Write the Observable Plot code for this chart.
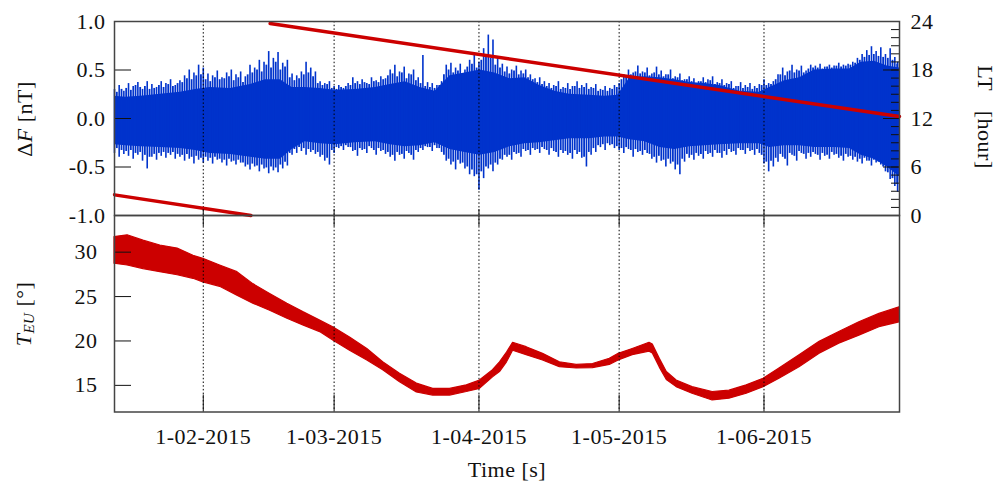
<!DOCTYPE html>
<html><head><meta charset="utf-8">
<script src="https://cdn.jsdelivr.net/npm/d3@7"></script>
<script src="https://cdn.jsdelivr.net/npm/@observablehq/plot@0.6"></script>
<style>
body{margin:0;background:#fff;}
#wrap{position:relative;width:1003px;height:482px;font-family:"Liberation Serif","Times New Roman",serif;color:#111;letter-spacing:0.5px;}
#wrap svg{position:absolute;left:0;}
.lab{position:absolute;font-size:22px;line-height:1;white-space:nowrap;transform:translate(-50%,-50%) rotate(-90deg);}
.lab sub{font-size:15px;vertical-align:-0.25em;}
</style></head><body><div id="wrap">
<div class="lab" style="left:25px;top:119px">Δ<i>F</i> [nT]</div>
<div class="lab" style="left:25px;top:314px"><i>T</i><sub><i>EU</i></sub> [°]</div>
<div class="lab" style="left:985px;top:117px;transform:translate(-50%,-50%) rotate(90deg);word-spacing:14px">LT [hour]</div>
</div>
<script>
// ---- data ----
const monthTicks = ["2015-02-01","2015-03-01","2015-04-01","2015-05-01","2015-06-01"];
const dfTicks = [-1, -0.5, 0, 0.5, 1];
const ltTicks = [0, 6, 12, 18, 24];
const ltMinorTicks = [0,1,2,3,4,5,6,7,8,9,10,11,12,13,14,15,16,17,18,19,20,21,22,23,24];
const tTicks = [15, 20, 25, 30];

// days since 2015-01-01 (UTC)
const coreDay = [12,14.4,17.6,21.8,26.1,29.3,32.5,36.8,41.1,44.3,47.5,50.0,52.8,56.0,59.2,63.5,67.8,71.0,74.2,77.4,80.6,83.8,87.0,90.2,93.4,96.6,99.8,103.0,106.2,109.4,113.7,116.9,119.7,122.3,125.5,128.7,131.9,135.1,138.3,141.5,145.8,150.0,152.2,155.4,158.6,161.8,166.1,169.3,171.8,174.6,177.4,180];
const coreTop = [0.23,0.22,0.23,0.25,0.27,0.30,0.32,0.31,0.35,0.40,0.40,0.32,0.32,0.31,0.29,0.30,0.32,0.35,0.38,0.32,0.28,0.44,0.47,0.50,0.47,0.41,0.42,0.34,0.28,0.25,0.24,0.23,0.24,0.42,0.43,0.42,0.40,0.37,0.36,0.34,0.28,0.27,0.32,0.39,0.42,0.50,0.51,0.51,0.58,0.59,0.54,0.52];
const coreBot = [-0.27,-0.28,-0.29,-0.30,-0.31,-0.33,-0.36,-0.37,-0.40,-0.42,-0.42,-0.32,-0.24,-0.26,-0.27,-0.25,-0.24,-0.27,-0.29,-0.28,-0.25,-0.32,-0.35,-0.38,-0.35,-0.29,-0.26,-0.25,-0.23,-0.21,-0.21,-0.19,-0.19,-0.22,-0.24,-0.30,-0.32,-0.29,-0.28,-0.27,-0.26,-0.26,-0.30,-0.28,-0.28,-0.30,-0.30,-0.31,-0.38,-0.42,-0.50,-0.60];

// tallest excursions, read about once a day
const spikeDay = [12,13,14,15,16,17,18,19,20,21,22,23,24,25,26,27,28,29,30,31,32,33,34,35,36,37,38,39,40,41,42,43,44,45,46,47,48,49,50,51,52,53,54,55,56,57,58,59,60,61,62,63,64,65,66,67,68,69,70,71,72,73,74,75,76,77,78,79,80,81,82,83,84,85,86,87,88,89,90,91,92,93,94,95,96,97,98,99,100,101,102,103,104,105,106,107,108,109,110,111,112,113,114,115,116,117,118,119,120,121,122,123,124,125,126,127,128,129,130,131,132,133,134,135,136,137,138,139,140,141,142,143,144,145,146,147,148,149,150,151,152,153,154,155,156,157,158,159,160,161,162,163,164,165,166,167,168,169,170,171,172,173,174,175,176,177,178,179,179.6];
const spikeTop = [
 0.30,0.34,0.28,0.36,0.33,0.37,0.30,0.38,0.35,0.32,
 0.38,0.36,0.40,0.34,0.39,0.44,0.50,0.47,0.55,0.52,
 0.46,0.44,0.49,0.42,0.47,0.50,0.45,0.48,0.43,0.55,
 0.52,0.60,0.58,0.69,0.62,0.68,0.57,0.60,0.46,0.44,
 0.48,0.58,0.52,0.48,0.38,0.36,0.38,0.33,0.34,0.31,
 0.36,0.42,0.38,0.40,0.36,0.42,0.39,0.43,0.41,0.50,
 0.55,0.48,0.53,0.46,0.50,0.42,0.65,0.37,0.36,0.34,
 0.38,0.55,0.57,0.52,0.56,0.50,0.60,0.67,0.58,0.72,
 0.86,0.81,0.62,0.56,0.53,0.50,0.54,0.49,0.50,0.45,
 0.41,0.42,0.38,0.36,0.34,0.38,0.32,0.36,0.33,0.38,
 0.34,0.36,0.32,0.35,0.30,0.33,0.31,0.34,0.36,0.45,
 0.50,0.47,0.54,0.48,0.52,0.46,0.53,0.49,0.45,0.50,
 0.43,0.46,0.40,0.43,0.41,0.38,0.42,0.40,0.43,0.37,
 0.40,0.36,0.38,0.33,0.37,0.34,0.36,0.33,0.35,0.40,
 0.36,0.38,0.45,0.52,0.48,0.55,0.50,0.54,0.49,0.55,
 0.54,0.56,0.53,0.55,0.54,0.57,0.55,0.56,0.58,0.62,
 0.66,0.70,0.74,0.69,0.73,0.66,0.72,0.63,0.58];
const spikeBot = [
 -0.36,-0.40,-0.37,-0.39,-0.42,-0.38,-0.44,-0.52,-0.40,-0.43,
 -0.39,-0.41,-0.38,-0.42,-0.40,-0.44,-0.42,-0.47,-0.43,-0.46,
 -0.44,-0.47,-0.43,-0.46,-0.49,-0.45,-0.48,-0.46,-0.50,-0.53,
 -0.50,-0.55,-0.52,-0.57,-0.54,-0.56,-0.52,-0.49,-0.38,-0.36,
 -0.34,-0.38,-0.35,-0.37,-0.40,-0.44,-0.48,-0.36,-0.31,-0.33,
 -0.30,-0.34,-0.39,-0.33,-0.36,-0.31,-0.38,-0.34,-0.37,-0.40,
 -0.44,-0.38,-0.42,-0.36,-0.43,-0.35,-0.33,-0.30,-0.34,-0.31,
 -0.35,-0.44,-0.48,-0.53,-0.47,-0.52,-0.58,-0.60,-0.74,-0.62,
 -0.52,-0.55,-0.48,-0.43,-0.40,-0.43,-0.37,-0.40,-0.34,-0.38,
 -0.33,-0.36,-0.32,-0.38,-0.34,-0.40,-0.36,-0.38,-0.42,-0.37,
 -0.41,-0.50,-0.38,-0.35,-0.30,-0.33,-0.28,-0.31,-0.33,-0.36,
 -0.32,-0.40,-0.35,-0.38,-0.36,-0.42,-0.46,-0.44,-0.50,-0.47,
 -0.53,-0.58,-0.45,-0.41,-0.43,-0.39,-0.42,-0.37,-0.40,-0.36,
 -0.41,-0.38,-0.35,-0.38,-0.33,-0.37,-0.34,-0.38,-0.36,-0.47,
 -0.55,-0.50,-0.45,-0.40,-0.49,-0.38,-0.44,-0.36,-0.42,-0.40,
 -0.37,-0.43,-0.39,-0.42,-0.38,-0.41,-0.44,-0.40,-0.43,-0.45,
 -0.47,-0.44,-0.49,-0.46,-0.48,-0.55,-0.63,-0.70,-0.76];

// secondary excursions, between the daily ones
const spike2Day = [12.5,13.5,14.5,15.5,16.5,17.5,18.5,19.5,20.5,21.5,22.5,23.5,24.5,25.5,26.5,27.5,28.5,29.5,30.5,31.5,32.5,33.5,34.5,35.5,36.5,37.5,38.5,39.5,40.5,41.5,42.5,43.5,44.5,45.5,46.5,47.5,48.5,49.5,50.5,51.5,52.5,53.5,54.5,55.5,56.5,57.5,58.5,59.5,60.5,61.5,62.5,63.5,64.5,65.5,66.5,67.5,68.5,69.5,70.5,71.5,72.5,73.5,74.5,75.5,76.5,77.5,78.5,79.5,80.5,81.5,82.5,83.5,84.5,85.5,86.5,87.5,88.5,89.5,90.5,91.5,92.5,93.5,94.5,95.5,96.5,97.5,98.5,99.5,100.5,101.5,102.5,103.5,104.5,105.5,106.5,107.5,108.5,109.5,110.5,111.5,112.5,113.5,114.5,115.5,116.5,117.5,118.5,119.5,120.5,121.5,122.5,123.5,124.5,125.5,126.5,127.5,128.5,129.5,130.5,131.5,132.5,133.5,134.5,135.5,136.5,137.5,138.5,139.5,140.5,141.5,142.5,143.5,144.5,145.5,146.5,147.5,148.5,149.5,150.5,151.5,152.5,153.5,154.5,155.5,156.5,157.5,158.5,159.5,160.5,161.5,162.5,163.5,164.5,165.5,166.5,167.5,168.5,169.5,170.5,171.5,172.5,173.5,174.5,175.5,176.5,177.5,178.5,179.5];
const spike2Top = [
 0.27,0.30,0.31,0.29,0.34,0.32,0.33,0.30,0.31,0.34,
 0.32,0.35,0.33,0.36,0.37,0.41,0.40,0.44,0.45,0.40,
 0.38,0.42,0.40,0.41,0.43,0.39,0.42,0.37,0.45,0.47,
 0.50,0.48,0.55,0.52,0.58,0.50,0.53,0.42,0.39,0.41,
 0.45,0.47,0.43,0.36,0.34,0.35,0.31,0.30,0.32,0.33,
 0.34,0.36,0.35,0.37,0.35,0.38,0.37,0.40,0.44,0.46,
 0.43,0.47,0.41,0.45,0.39,0.36,0.33,0.32,0.31,0.34,
 0.45,0.50,0.47,0.49,0.46,0.53,0.56,0.52,0.60,0.65,
 0.62,0.55,0.52,0.48,0.46,0.49,0.45,0.46,0.42,0.40,
 0.37,0.35,0.33,0.31,0.33,0.30,0.31,0.30,0.33,0.31,
 0.32,0.30,0.31,0.28,0.29,0.28,0.30,0.32,0.40,0.44,
 0.45,0.48,0.46,0.47,0.44,0.47,0.45,0.43,0.45,0.41,
 0.42,0.39,0.40,0.38,0.36,0.38,0.37,0.39,0.35,0.36,
 0.34,0.35,0.31,0.33,0.31,0.32,0.30,0.31,0.34,0.34,
 0.35,0.40,0.45,0.44,0.49,0.47,0.49,0.47,0.51,0.52,
 0.52,0.51,0.53,0.52,0.54,0.53,0.54,0.55,0.57,0.60,
 0.63,0.65,0.66,0.64,0.63,0.62,0.60,0.56];
const spike2Bot = [
 -0.31,-0.33,-0.34,-0.33,-0.36,-0.35,-0.38,-0.40,-0.37,-0.36,
 -0.35,-0.36,-0.35,-0.37,-0.38,-0.37,-0.40,-0.39,-0.41,-0.40,
 -0.41,-0.40,-0.42,-0.43,-0.42,-0.44,-0.43,-0.46,-0.48,-0.47,
 -0.49,-0.48,-0.51,-0.50,-0.51,-0.48,-0.45,-0.36,-0.32,-0.30,
 -0.31,-0.32,-0.33,-0.35,-0.38,-0.41,-0.33,-0.30,-0.29,-0.28,
 -0.30,-0.33,-0.31,-0.32,-0.29,-0.33,-0.31,-0.33,-0.35,-0.38,
 -0.35,-0.37,-0.34,-0.38,-0.33,-0.31,-0.29,-0.30,-0.28,-0.31,
 -0.38,-0.42,-0.45,-0.43,-0.46,-0.50,-0.53,-0.58,-0.55,-0.50,
 -0.48,-0.46,-0.42,-0.38,-0.38,-0.35,-0.36,-0.32,-0.33,-0.31,
 -0.32,-0.30,-0.33,-0.31,-0.35,-0.33,-0.34,-0.36,-0.33,-0.35,
 -0.40,-0.35,-0.31,-0.28,-0.27,-0.26,-0.27,-0.29,-0.31,-0.30,
 -0.33,-0.32,-0.34,-0.33,-0.37,-0.40,-0.39,-0.43,-0.42,-0.45,
 -0.48,-0.42,-0.37,-0.38,-0.36,-0.37,-0.34,-0.36,-0.33,-0.36,
 -0.34,-0.32,-0.34,-0.31,-0.33,-0.31,-0.33,-0.32,-0.38,-0.45,
 -0.44,-0.41,-0.37,-0.42,-0.36,-0.39,-0.34,-0.37,-0.36,-0.35,
 -0.38,-0.36,-0.38,-0.35,-0.37,-0.39,-0.37,-0.39,-0.40,-0.42,
 -0.41,-0.44,-0.43,-0.45,-0.50,-0.56,-0.62,-0.68];

// local time (hour) of the track, two segments (wrap at 0/24 h)
const ltDay = [12, 41.2, 45.3, 180];
const ltHour = [2.56, 0, 23.75, 12.25];
const ltSeg = [1, 1, 2, 2];

// T_EU band (upper / lower envelope)
const tDay = [12.0,14.8,18.2,21.8,25.5,28.9,31.0,34.6,38.3,41.7,45.3,49.0,52.4,56.0,58.8,62.4,66.1,69.5,73.1,76.7,80.2,83.8,87.4,90.2,93.0,94.5,96.0,97.3,100.2,103.7,107.3,110.9,114.4,118.0,119.9,122.9,126.5,127.2,128.7,130.2,132.3,135.7,140.0,143.6,147.3,150.9,154.3,158.6,162.9,167.1,171.4,175.7,180];
const tTop = [31.7,31.9,31.3,30.75,30.4,29.6,29.25,28.5,27.75,26.4,25.3,24.2,23.25,22.3,21.55,20.4,19.1,17.6,16.3,15.2,14.6,14.6,15.0,15.55,16.7,17.6,18.7,19.8,19.3,18.55,17.6,17.3,17.4,18.0,18.55,19.1,19.8,19.6,18.0,16.5,15.55,14.8,14.25,14.4,15.0,15.75,16.9,18.4,19.9,21.0,22.1,23.05,23.8];
const tBot = [28.7,28.5,28.1,27.75,27.4,27.0,26.6,26.1,25.1,24.2,23.4,22.5,21.75,21.0,20.05,18.9,17.8,16.7,15.35,14.2,13.85,13.85,14.25,14.6,15.9,16.5,17.6,18.9,18.4,17.8,17.05,16.9,16.95,17.3,17.8,18.4,18.8,18.6,17.0,15.6,14.8,14.05,13.3,13.5,14.05,14.8,15.75,17.05,18.55,19.7,20.6,21.55,22.1];

// ---- build ----
const BLUE = "#0033cc", RED = "#cc0000";
const toDate = d => new Date(Date.UTC(2015, 0, 1) + d * 864e5);
const xDomain = [toDate(12), toDate(180)];
const ticksX = monthTicks.map(s => new Date(s + "T00:00:00Z"));
const fmtX = d3.utcFormat("%-d-%m-%Y");
const ltToY = h => h / 12 - 1;

const core = coreDay.map((d, i) => ({x: toDate(d), top: coreTop[i], bot: coreBot[i]}));
const spikes = spikeDay.map((d, i) => ({x: toDate(d), top: spikeTop[i], bot: spikeBot[i]}));
const spikes2 = spike2Day.map((d, i) => ({x: toDate(d), top: spike2Top[i], bot: spike2Bot[i]}));
const lt = ltDay.map((d, i) => ({x: toDate(d), v: ltToY(ltHour[i]), seg: ltSeg[i]}));
const teu = tDay.map((d, i) => ({x: toDate(d), top: tTop[i], bot: tBot[i]}));

const style = {fontFamily: '"Liberation Serif", "Times New Roman", serif', fontSize: "22px", letterSpacing: "0.5px", background: "transparent", color: "#111", overflow: "visible"};
const dotted = {stroke: "#000", strokeDasharray: "1.5,2.2", strokeWidth: 1};
const frame = Plot.frame({stroke: "#444", strokeWidth: 1.5});

const topPlot = Plot.plot({
  width: 1003, height: 232, marginTop: 21, marginBottom: 17, marginLeft: 114, marginRight: 104,
  style,
  x: {type: "utc", domain: xDomain, label: null},
  y: {domain: [-1, 1], label: null},
  marks: [
    Plot.areaY(core, {x: "x", y1: "bot", y2: "top", fill: BLUE}),
    Plot.ruleX(spikes2, {x: "x", y1: "bot", y2: "top", stroke: BLUE, strokeWidth: 1.8}),
    Plot.ruleX(spikes, {x: "x", y1: "bot", y2: "top", stroke: BLUE, strokeWidth: 1.6}),
    Plot.ruleX(ticksX, dotted),
    Plot.line(lt, {x: "x", y: "v", z: "seg", stroke: RED, strokeWidth: 3.4}),
    Plot.axisY(dfTicks, {anchor: "left", tickSize: 17, dx: 17, fill: "none", label: null}),
    Plot.axisY(dfTicks, {anchor: "left", tickSize: 0, tickPadding: 9, tickFormat: d => d.toFixed(1), label: null}),
    Plot.axisY(ltMinorTicks.map(ltToY), {anchor: "right", tickSize: 9, dx: -9, fill: "none", label: null}),
    Plot.axisY(ltTicks.map(ltToY), {anchor: "right", tickSize: 17, dx: -17, fill: "none", label: null}),
    Plot.axisY(ltTicks.map(ltToY), {anchor: "right", tickSize: 0, tickPadding: 11, tickFormat: v => String(Math.round((v + 1) * 12)), label: null}),
    Plot.axisX(ticksX, {anchor: "bottom", tickSize: 6, dy: -6, fill: "none", label: null}),
    frame
  ]
});
topPlot.style.top = "0px";

const botPlot = Plot.plot({
  width: 1003, height: 267, marginTop: 0, marginBottom: 70.5, marginLeft: 114, marginRight: 104,
  style,
  x: {type: "utc", domain: xDomain, label: null},
  y: {domain: [12, 34.13], label: null},
  marks: [
    Plot.areaY(teu, {x: "x", y1: "bot", y2: "top", fill: RED, stroke: RED, strokeWidth: 1.2}),
    Plot.ruleX(ticksX, dotted),
    Plot.axisY(tTicks, {anchor: "left", tickSize: 17, dx: 17, fill: "none", label: null}),
    Plot.axisY(tTicks, {anchor: "left", tickSize: 0, tickPadding: 17, label: null}),
    Plot.axisX(ticksX, {anchor: "bottom", tickSize: 17, dy: -17, fill: "none", label: null}),
    Plot.axisX(ticksX, {anchor: "top", tickSize: 10, dy: 10, fill: "none", label: null}),
    Plot.axisX(ticksX, {anchor: "bottom", tickSize: 0, tickPadding: 16, tickFormat: fmtX, label: null}),
    Plot.text(["Time [s]"], {frameAnchor: "bottom", dy: 64.5, lineAnchor: "bottom", fontSize: 22}),
    frame
  ]
});
botPlot.style.top = "215px";

const wrap = document.getElementById("wrap");
wrap.appendChild(topPlot);
wrap.appendChild(botPlot);
</script></body></html>
